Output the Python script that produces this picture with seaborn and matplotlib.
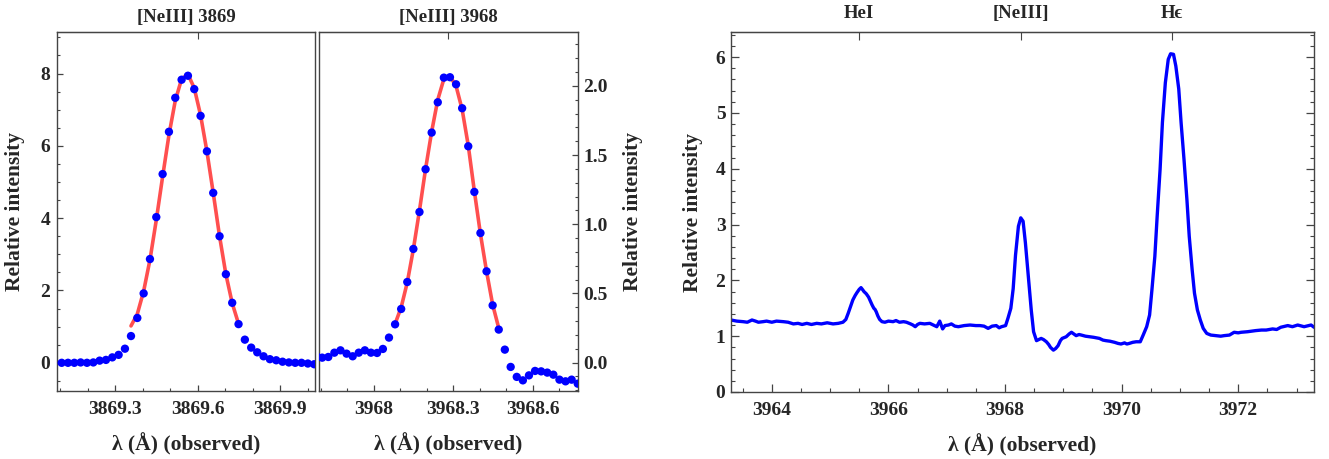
import numpy as np
import pandas as pd
import matplotlib
matplotlib.use("Agg")
import matplotlib.pyplot as plt
from matplotlib.ticker import MultipleLocator, FixedLocator
import seaborn as sns

# --- [NeIII] 3869 panel: observed points and gaussian fit ---
wl_3869 = [3869.106, 3869.129, 3869.152, 3869.175, 3869.198, 3869.221, 3869.244,
           3869.267, 3869.290, 3869.313, 3869.336, 3869.358, 3869.381, 3869.404,
           3869.427, 3869.450, 3869.473, 3869.496, 3869.519, 3869.542, 3869.565,
           3869.588, 3869.611, 3869.634, 3869.657, 3869.680, 3869.703, 3869.726,
           3869.749, 3869.772, 3869.795, 3869.817, 3869.840, 3869.863, 3869.886,
           3869.909, 3869.932, 3869.955, 3869.978, 3870.001, 3870.024]
int_3869 = [0.00, 0.00, 0.00, 0.01, 0.00, 0.01, 0.06, 0.08, 0.15, 0.22, 0.39,
            0.74, 1.24, 1.92, 2.87, 4.03, 5.22, 6.39, 7.33, 7.83, 7.94, 7.57,
            6.83, 5.85, 4.70, 3.50, 2.45, 1.66, 1.07, 0.64, 0.42, 0.29, 0.18,
            0.10, 0.07, 0.03, 0.01, 0.00, 0.00, -0.02, -0.04]
fit_wl_3869 = wl_3869[11:29]
fit_3869 = [1.02, 1.35, 1.98, 2.85, 3.95, 5.15, 6.30, 7.25, 7.85, 7.98, 7.60,
            6.85, 5.85, 4.70, 3.50, 2.45, 1.65, 1.08]

# --- [NeIII] 3968 panel ---
wl_3968 = [3967.783, 3967.806, 3967.829, 3967.852, 3967.875, 3967.898, 3967.921,
           3967.944, 3967.967, 3967.990, 3968.013, 3968.035, 3968.058, 3968.081,
           3968.104, 3968.127, 3968.150, 3968.173, 3968.196, 3968.219, 3968.242,
           3968.265, 3968.288, 3968.311, 3968.334, 3968.357, 3968.380, 3968.403,
           3968.426, 3968.449, 3968.472, 3968.495, 3968.517, 3968.540, 3968.563,
           3968.586, 3968.609, 3968.632, 3968.655, 3968.678, 3968.701, 3968.724,
           3968.747, 3968.770]
int_3968 = [0.050, 0.036, 0.041, 0.072, 0.089, 0.065, 0.046, 0.072, 0.089, 0.072,
            0.070, 0.099, 0.181, 0.277, 0.388, 0.583, 0.822, 1.089, 1.398, 1.663,
            1.882, 2.060, 2.063, 2.012, 1.839, 1.564, 1.234, 0.937, 0.660, 0.414,
            0.239, 0.094, -0.031, -0.103, -0.128, -0.092, -0.060, -0.063, -0.072,
            -0.087, -0.123, -0.135, -0.123, -0.152]
fit_wl_3968 = wl_3968[13:31]
fit_3968 = [0.28, 0.40, 0.58, 0.82, 1.10, 1.40, 1.67, 1.90, 2.05, 2.07, 2.00,
            1.83, 1.57, 1.24, 0.93, 0.66, 0.42, 0.25]

# --- wide spectrum ---
spec_wl = [3963.30, 3963.40, 3963.51, 3963.58, 3963.66, 3963.72, 3963.77, 3963.85,
           3963.91, 3964.00, 3964.08, 3964.20, 3964.28, 3964.37, 3964.45, 3964.52,
           3964.60, 3964.68, 3964.77, 3964.85, 3964.95, 3965.05, 3965.14, 3965.22,
           3965.27, 3965.31, 3965.35, 3965.39, 3965.43, 3965.46, 3965.50, 3965.53,
           3965.56, 3965.58, 3965.62, 3965.66, 3965.69, 3965.72, 3965.75, 3965.77,
           3965.79, 3965.82, 3965.85, 3965.89, 3965.94, 3966.00, 3966.08, 3966.13,
           3966.19, 3966.26, 3966.31, 3966.38, 3966.42, 3966.46, 3966.50, 3966.54,
           3966.62, 3966.71, 3966.77, 3966.83, 3966.88, 3966.93, 3966.97, 3967.03,
           3967.08, 3967.14, 3967.20, 3967.30, 3967.40, 3967.50, 3967.57, 3967.64,
           3967.71, 3967.78, 3967.85, 3967.90, 3967.94, 3968.01, 3968.05, 3968.10,
           3968.14, 3968.18, 3968.23, 3968.27, 3968.31, 3968.35, 3968.40, 3968.45,
           3968.49, 3968.54, 3968.58, 3968.62, 3968.66, 3968.71, 3968.75, 3968.78,
           3968.83, 3968.87, 3968.91, 3968.95, 3968.98, 3969.05, 3969.10, 3969.14,
           3969.18, 3969.22, 3969.27, 3969.31, 3969.38, 3969.45, 3969.52, 3969.62,
           3969.68, 3969.73, 3969.80, 3969.88, 3969.94, 3969.99, 3970.05, 3970.09,
           3970.13, 3970.19, 3970.25, 3970.32, 3970.37, 3970.43, 3970.48, 3970.52,
           3970.57, 3970.61, 3970.66, 3970.70, 3970.75, 3970.80, 3970.84, 3970.89,
           3970.93, 3970.98, 3971.02, 3971.07, 3971.12, 3971.16, 3971.21, 3971.25,
           3971.30, 3971.35, 3971.40, 3971.46, 3971.53, 3971.62, 3971.70, 3971.76,
           3971.85, 3971.93, 3972.00, 3972.05, 3972.16, 3972.30, 3972.40, 3972.48,
           3972.59, 3972.66, 3972.73, 3972.85, 3972.93, 3973.02, 3973.13, 3973.25,
           3973.30]
spec_int = [1.29, 1.27, 1.26, 1.25, 1.29, 1.27, 1.25, 1.26, 1.27, 1.25, 1.27, 1.26,
            1.25, 1.22, 1.23, 1.21, 1.23, 1.21, 1.23, 1.22, 1.24, 1.22, 1.23, 1.25,
            1.30, 1.41, 1.53, 1.65, 1.73, 1.78, 1.84, 1.87, 1.83, 1.80, 1.76, 1.70,
            1.63, 1.56, 1.50, 1.48, 1.44, 1.36, 1.30, 1.26, 1.25, 1.27, 1.26, 1.28,
            1.25, 1.26, 1.25, 1.22, 1.20, 1.17, 1.21, 1.23, 1.22, 1.23, 1.20, 1.17,
            1.27, 1.13, 1.19, 1.20, 1.22, 1.18, 1.17, 1.19, 1.20, 1.19, 1.19, 1.18,
            1.14, 1.18, 1.19, 1.15, 1.17, 1.19, 1.32, 1.50, 1.85, 2.45, 2.97, 3.12,
            3.06, 2.67, 2.07, 1.47, 1.08, 0.92, 0.94, 0.96, 0.94, 0.90, 0.85, 0.80,
            0.75, 0.78, 0.83, 0.92, 0.96, 0.99, 1.04, 1.07, 1.04, 1.01, 1.03, 1.02,
            1.00, 0.99, 0.98, 0.96, 0.93, 0.92, 0.91, 0.89, 0.87, 0.86, 0.88, 0.86,
            0.87, 0.89, 0.90, 0.90, 1.02, 1.17, 1.38, 1.83, 2.43, 3.15, 3.99, 4.83,
            5.54, 5.96, 6.06, 6.05, 5.84, 5.43, 4.83, 4.17, 3.45, 2.79, 2.19, 1.77,
            1.47, 1.29, 1.14, 1.05, 1.02, 1.01, 1.00, 1.01, 1.02, 1.07, 1.06, 1.07,
            1.08, 1.10, 1.11, 1.11, 1.13, 1.12, 1.16, 1.19, 1.17, 1.20, 1.17, 1.20,
            1.16]

line_pos = [3965.50, 3968.27, 3970.86]
line_names = ["HeI", "[NeIII]", "H\u03f5"]

sns.set_style("ticks")
plt.rcParams["font.family"] = ["Liberation Serif", "DejaVu Serif"]
plt.rcParams["font.weight"] = "bold"
plt.rcParams["axes.labelweight"] = "bold"
plt.rcParams["axes.titleweight"] = "bold"

blue = "#0000ff"
red = "#ff4f4f"
frame = "#444444"
tick_fs = 14
title_fs = 13.5
lab_fs = 15.5
xlab = "\u03bb (\u00c5) (observed)"
ylab = "Relative intensity"

fig = plt.figure(figsize=(13.29, 4.59), dpi=100)
W, H = 1329, 459


def rect(l, r, t, b):
    return [l / W, 1 - b / H, (r - l) / W, (b - t) / H]


def style_frame(ax):
    for s in ax.spines.values():
        s.set_color(frame)
        s.set_linewidth(1.0)
    ax.tick_params(which="both", direction="in", color=frame, labelsize=tick_fs)
    ax.tick_params(which="major", length=4, width=0.9)
    ax.tick_params(which="minor", length=2.5, width=0.8)


# ---- panel 1 ----
ax1 = fig.add_axes(rect(57, 315, 32, 391))
d1 = pd.DataFrame({"wl": wl_3869, "I": int_3869})
f1 = pd.DataFrame({"wl": fit_wl_3869, "I": fit_3869})
sns.lineplot(data=f1, x="wl", y="I", ax=ax1, color=red, lw=2.6, sort=False,
             estimator=None, zorder=2)
sns.scatterplot(data=d1, x="wl", y="I", ax=ax1, color=blue, s=36,
                edgecolor="none", zorder=3)
ax1.set_xlim(3869.089, 3870.027)
ax1.set_ylim(-0.78, 9.15)
ax1.xaxis.set_major_locator(FixedLocator([3869.3, 3869.6, 3869.9]))
ax1.set_xticklabels(["3869.3", "3869.6", "3869.9"])
ax1.xaxis.set_minor_locator(MultipleLocator(0.1))
ax1.yaxis.set_major_locator(MultipleLocator(2))
ax1.yaxis.set_minor_locator(MultipleLocator(0.5))
style_frame(ax1)
ax1.tick_params(axis="x", pad=7)
ax1.tick_params(axis="y", pad=5)
ax1.set_xlabel(xlab, fontsize=lab_fs, labelpad=11)
ax1.set_ylabel(ylab, fontsize=lab_fs, labelpad=11)
ax1.set_title("[NeIII] 3869", fontsize=title_fs, pad=7)
top1 = ax1.secondary_xaxis("top")
top1.set_xticks([3869.60])
top1.tick_params(direction="in", length=5, color=frame, labeltop=False)

# ---- panel 2 ----
ax2 = fig.add_axes(rect(319, 578, 32, 391))
d2 = pd.DataFrame({"wl": wl_3968, "I": int_3968})
f2 = pd.DataFrame({"wl": fit_wl_3968, "I": fit_3968})
sns.lineplot(data=f2, x="wl", y="I", ax=ax2, color=red, lw=2.6, sort=False,
             estimator=None, zorder=2)
sns.scatterplot(data=d2, x="wl", y="I", ax=ax2, color=blue, s=36,
                edgecolor="none", zorder=3)
ax2.set_xlim(3967.794, 3968.771)
ax2.set_ylim(-0.205, 2.39)
ax2.xaxis.set_major_locator(FixedLocator([3968.0, 3968.3, 3968.6]))
ax2.set_xticklabels(["3968", "3968.3", "3968.6"])
ax2.xaxis.set_minor_locator(MultipleLocator(0.1))
ax2.yaxis.set_major_locator(MultipleLocator(0.5))
ax2.yaxis.set_minor_locator(MultipleLocator(0.1))
ax2.yaxis.set_major_formatter(matplotlib.ticker.FormatStrFormatter("%.1f"))
ax2.yaxis.tick_right()
ax2.yaxis.set_label_position("right")
style_frame(ax2)
ax2.tick_params(axis="x", pad=7)
ax2.tick_params(axis="y", pad=4, left=False)
ax2.set_xlabel(xlab, fontsize=lab_fs, labelpad=11)
ax2.set_ylabel(ylab, fontsize=lab_fs, labelpad=11)
ax2.set_title("[NeIII] 3968", fontsize=title_fs, pad=7)
top2 = ax2.secondary_xaxis("top")
top2.set_xticks([3968.28])
top2.tick_params(direction="in", length=5, color=frame, labeltop=False)

# ---- panel 3 ----
ax3 = fig.add_axes(rect(731, 1314, 32, 392))
d3 = pd.DataFrame({"wl": spec_wl, "I": spec_int})
sns.lineplot(data=d3, x="wl", y="I", ax=ax3, color=blue, lw=2.4, sort=False,
             estimator=None)
ax3.set_xlim(3963.30, 3973.30)
ax3.set_ylim(0, 6.45)
ax3.xaxis.set_major_locator(MultipleLocator(2))
ax3.xaxis.set_minor_locator(MultipleLocator(0.5))
ax3.yaxis.set_major_locator(MultipleLocator(1))
ax3.yaxis.set_minor_locator(MultipleLocator(0.2))
style_frame(ax3)
ax3.tick_params(axis="y", which="both", right=True)
ax3.tick_params(which="major", length=6)
ax3.tick_params(which="minor", length=3)
ax3.tick_params(axis="x", pad=7)
ax3.tick_params(axis="y", pad=4)
ax3.xaxis.set_major_formatter(matplotlib.ticker.FormatStrFormatter("%d"))
ax3.set_xlabel(xlab, fontsize=lab_fs, labelpad=11)
ax3.set_ylabel(ylab, fontsize=lab_fs, labelpad=9)
top3 = ax3.secondary_xaxis("top")
top3.set_xticks(line_pos, labels=line_names)
top3.tick_params(direction="in", length=6, color=frame, labelsize=title_fs, pad=7)

fig.savefig("out.png", dpi=100)
